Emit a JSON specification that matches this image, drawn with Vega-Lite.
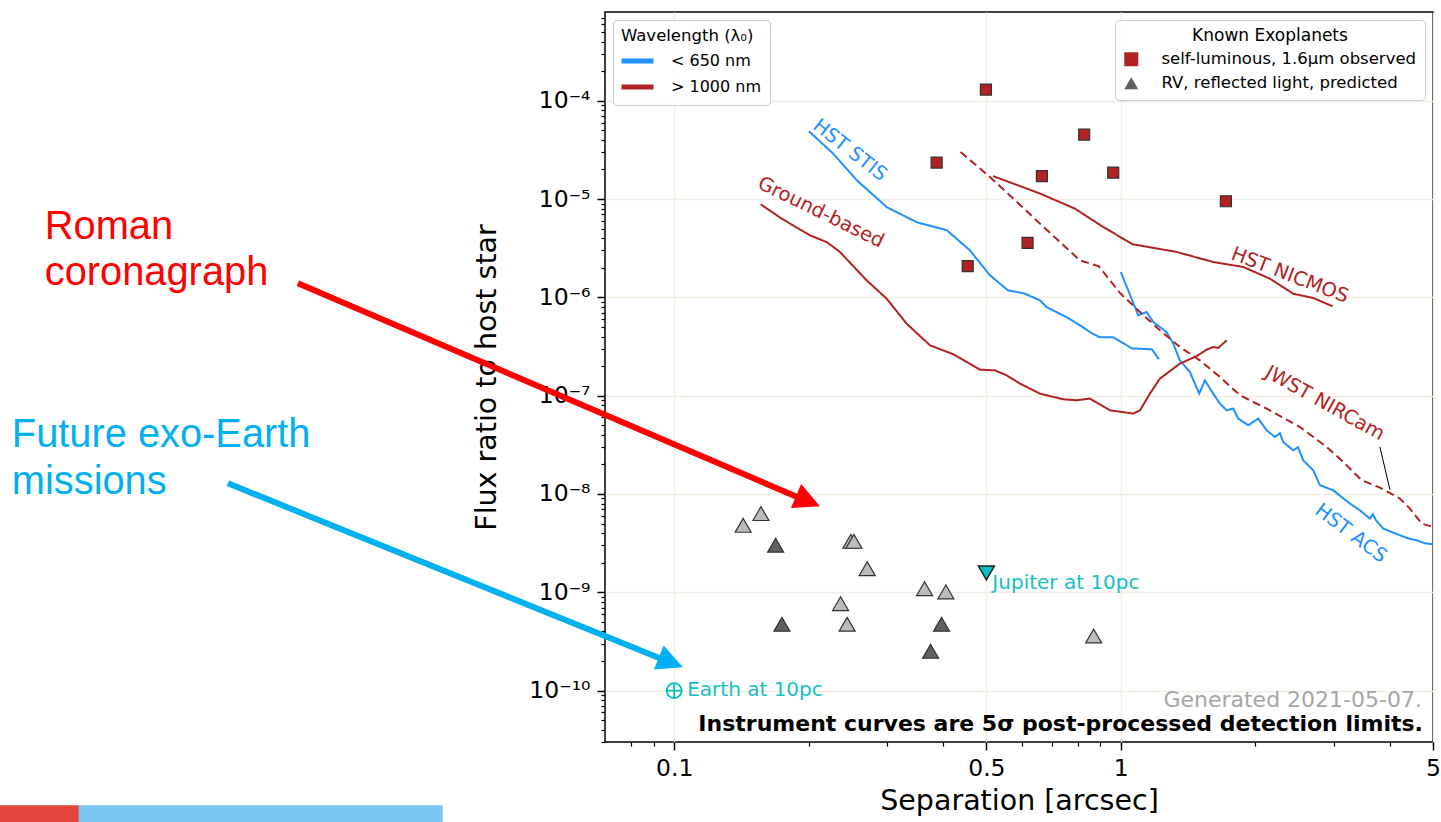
{
  "$schema": "https://vega.github.io/schema/vega-lite/v6.json",
  "width": 828,
  "height": 730,
  "autosize": "none",
  "padding": {"left": 605, "top": 12, "right": 8, "bottom": 80},
  "background": "#ffffff",
  "config": {
    "font": "DejaVu Sans",
    "view": {"stroke": "#000000", "strokeWidth": 1.5},
    "axis": {"labelColor": "#000000", "titleColor": "#000000", "tickColor": "#000000", "domain": false, "labelFont": "DejaVu Sans", "titleFont": "DejaVu Sans", "titleFontWeight": "normal"},
    "legend": {"labelFont": "DejaVu Sans", "titleFont": "DejaVu Sans", "labelColor": "#000000", "titleColor": "#000000", "titleFontWeight": "normal"}
  },
  "datasets": {
    "curves": [
      {"curve": "HST STIS", "band": "< 650 nm", "i": 0, "x": 0.2003, "y": 4.89e-5},
      {"curve": "HST STIS", "band": "< 650 nm", "i": 1, "x": 0.2266, "y": 2.92e-5},
      {"curve": "HST STIS", "band": "< 650 nm", "i": 2, "x": 0.2565, "y": 1.55e-5},
      {"curve": "HST STIS", "band": "< 650 nm", "i": 3, "x": 0.2995, "y": 8.25e-6},
      {"curve": "HST STIS", "band": "< 650 nm", "i": 4, "x": 0.3494, "y": 5.81e-6},
      {"curve": "HST STIS", "band": "< 650 nm", "i": 5, "x": 0.4079, "y": 4.82e-6},
      {"curve": "HST STIS", "band": "< 650 nm", "i": 6, "x": 0.4593, "y": 3.01e-6},
      {"curve": "HST STIS", "band": "< 650 nm", "i": 7, "x": 0.5092, "y": 1.68e-6},
      {"curve": "HST STIS", "band": "< 650 nm", "i": 8, "x": 0.5587, "y": 1.18e-6},
      {"curve": "HST STIS", "band": "< 650 nm", "i": 9, "x": 0.6067, "y": 1.10e-6},
      {"curve": "HST STIS", "band": "< 650 nm", "i": 10, "x": 0.659, "y": 9.34e-7},
      {"curve": "HST STIS", "band": "< 650 nm", "i": 11, "x": 0.6831, "y": 7.93e-7},
      {"curve": "HST STIS", "band": "< 650 nm", "i": 12, "x": 0.7574, "y": 6.27e-7},
      {"curve": "HST STIS", "band": "< 650 nm", "i": 13, "x": 0.8098, "y": 5.20e-7},
      {"curve": "HST STIS", "band": "< 650 nm", "i": 14, "x": 0.8615, "y": 4.31e-7},
      {"curve": "HST STIS", "band": "< 650 nm", "i": 15, "x": 0.8979, "y": 3.93e-7},
      {"curve": "HST STIS", "band": "< 650 nm", "i": 16, "x": 0.9601, "y": 3.93e-7},
      {"curve": "HST STIS", "band": "< 650 nm", "i": 17, "x": 1.059, "y": 3.03e-7},
      {"curve": "HST STIS", "band": "< 650 nm", "i": 18, "x": 1.174, "y": 2.96e-7},
      {"curve": "HST STIS", "band": "< 650 nm", "i": 19, "x": 1.217, "y": 2.35e-7},
      {"curve": "HST ACS", "band": "< 650 nm", "i": 20, "x": 1.0, "y": 1.81e-6},
      {"curve": "HST ACS", "band": "< 650 nm", "i": 21, "x": 1.094, "y": 6.58e-7},
      {"curve": "HST ACS", "band": "< 650 nm", "i": 22, "x": 1.142, "y": 7.10e-7},
      {"curve": "HST ACS", "band": "< 650 nm", "i": 23, "x": 1.182, "y": 5.62e-7},
      {"curve": "HST ACS", "band": "< 650 nm", "i": 24, "x": 1.223, "y": 5.00e-7},
      {"curve": "HST ACS", "band": "< 650 nm", "i": 25, "x": 1.266, "y": 4.45e-7},
      {"curve": "HST ACS", "band": "< 650 nm", "i": 26, "x": 1.31, "y": 3.39e-7},
      {"curve": "HST ACS", "band": "< 650 nm", "i": 27, "x": 1.356, "y": 2.29e-7},
      {"curve": "HST ACS", "band": "< 650 nm", "i": 28, "x": 1.428, "y": 1.74e-7},
      {"curve": "HST ACS", "band": "< 650 nm", "i": 29, "x": 1.498, "y": 1.05e-7},
      {"curve": "HST ACS", "band": "< 650 nm", "i": 30, "x": 1.543, "y": 1.43e-7},
      {"curve": "HST ACS", "band": "< 650 nm", "i": 31, "x": 1.61, "y": 1.05e-7},
      {"curve": "HST ACS", "band": "< 650 nm", "i": 32, "x": 1.667, "y": 8.31e-8},
      {"curve": "HST ACS", "band": "< 650 nm", "i": 33, "x": 1.726, "y": 7.10e-8},
      {"curve": "HST ACS", "band": "< 650 nm", "i": 34, "x": 1.785, "y": 7.39e-8},
      {"curve": "HST ACS", "band": "< 650 nm", "i": 35, "x": 1.832, "y": 5.85e-8},
      {"curve": "HST ACS", "band": "< 650 nm", "i": 36, "x": 1.929, "y": 5.00e-8},
      {"curve": "HST ACS", "band": "< 650 nm", "i": 37, "x": 2.03, "y": 5.85e-8},
      {"curve": "HST ACS", "band": "< 650 nm", "i": 38, "x": 2.121, "y": 4.45e-8},
      {"curve": "HST ACS", "band": "< 650 nm", "i": 39, "x": 2.213, "y": 3.80e-8},
      {"curve": "HST ACS", "band": "< 650 nm", "i": 40, "x": 2.271, "y": 4.15e-8},
      {"curve": "HST ACS", "band": "< 650 nm", "i": 41, "x": 2.31, "y": 3.38e-8},
      {"curve": "HST ACS", "band": "< 650 nm", "i": 42, "x": 2.432, "y": 2.78e-8},
      {"curve": "HST ACS", "band": "< 650 nm", "i": 43, "x": 2.492, "y": 2.99e-8},
      {"curve": "HST ACS", "band": "< 650 nm", "i": 44, "x": 2.561, "y": 2.20e-8},
      {"curve": "HST ACS", "band": "< 650 nm", "i": 45, "x": 2.697, "y": 1.74e-8},
      {"curve": "HST ACS", "band": "< 650 nm", "i": 46, "x": 2.791, "y": 1.23e-8},
      {"curve": "HST ACS", "band": "< 650 nm", "i": 47, "x": 2.989, "y": 1.09e-8},
      {"curve": "HST ACS", "band": "< 650 nm", "i": 48, "x": 3.258, "y": 7.98e-9},
      {"curve": "HST ACS", "band": "< 650 nm", "i": 49, "x": 3.43, "y": 6.83e-9},
      {"curve": "HST ACS", "band": "< 650 nm", "i": 50, "x": 3.612, "y": 5.62e-9},
      {"curve": "HST ACS", "band": "< 650 nm", "i": 51, "x": 3.668, "y": 6.22e-9},
      {"curve": "HST ACS", "band": "< 650 nm", "i": 52, "x": 3.726, "y": 5.40e-9},
      {"curve": "HST ACS", "band": "< 650 nm", "i": 53, "x": 3.868, "y": 4.45e-9},
      {"curve": "HST ACS", "band": "< 650 nm", "i": 54, "x": 4.004, "y": 4.17e-9},
      {"curve": "HST ACS", "band": "< 650 nm", "i": 55, "x": 4.216, "y": 3.80e-9},
      {"curve": "HST ACS", "band": "< 650 nm", "i": 56, "x": 4.393, "y": 3.54e-9},
      {"curve": "HST ACS", "band": "< 650 nm", "i": 57, "x": 4.596, "y": 3.38e-9},
      {"curve": "HST ACS", "band": "< 650 nm", "i": 58, "x": 4.797, "y": 3.15e-9},
      {"curve": "HST ACS", "band": "< 650 nm", "i": 59, "x": 5.0, "y": 3.08e-9},
      {"curve": "Ground-based", "band": "> 1000 nm", "i": 60, "x": 0.1562, "y": 8.85e-6},
      {"curve": "Ground-based", "band": "> 1000 nm", "i": 61, "x": 0.174, "y": 6.33e-6},
      {"curve": "Ground-based", "band": "> 1000 nm", "i": 62, "x": 0.2013, "y": 4.28e-6},
      {"curve": "Ground-based", "band": "> 1000 nm", "i": 63, "x": 0.2194, "y": 3.66e-6},
      {"curve": "Ground-based", "band": "> 1000 nm", "i": 64, "x": 0.235, "y": 2.90e-6},
      {"curve": "Ground-based", "band": "> 1000 nm", "i": 65, "x": 0.2697, "y": 1.49e-6},
      {"curve": "Ground-based", "band": "> 1000 nm", "i": 66, "x": 0.2989, "y": 9.72e-7},
      {"curve": "Ground-based", "band": "> 1000 nm", "i": 67, "x": 0.3314, "y": 5.41e-7},
      {"curve": "Ground-based", "band": "> 1000 nm", "i": 68, "x": 0.3737, "y": 3.26e-7},
      {"curve": "Ground-based", "band": "> 1000 nm", "i": 69, "x": 0.4215, "y": 2.64e-7},
      {"curve": "Ground-based", "band": "> 1000 nm", "i": 70, "x": 0.4836, "y": 1.84e-7},
      {"curve": "Ground-based", "band": "> 1000 nm", "i": 71, "x": 0.5226, "y": 1.81e-7},
      {"curve": "Ground-based", "band": "> 1000 nm", "i": 72, "x": 0.555, "y": 1.61e-7},
      {"curve": "Ground-based", "band": "> 1000 nm", "i": 73, "x": 0.5943, "y": 1.33e-7},
      {"curve": "Ground-based", "band": "> 1000 nm", "i": 74, "x": 0.659, "y": 1.05e-7},
      {"curve": "Ground-based", "band": "> 1000 nm", "i": 75, "x": 0.743, "y": 9.19e-8},
      {"curve": "Ground-based", "band": "> 1000 nm", "i": 76, "x": 0.7962, "y": 8.98e-8},
      {"curve": "Ground-based", "band": "> 1000 nm", "i": 77, "x": 0.8527, "y": 9.34e-8},
      {"curve": "Ground-based", "band": "> 1000 nm", "i": 78, "x": 0.9454, "y": 7.10e-8},
      {"curve": "Ground-based", "band": "> 1000 nm", "i": 79, "x": 1.066, "y": 6.58e-8},
      {"curve": "Ground-based", "band": "> 1000 nm", "i": 80, "x": 1.104, "y": 7.10e-8},
      {"curve": "Ground-based", "band": "> 1000 nm", "i": 81, "x": 1.162, "y": 1.05e-7},
      {"curve": "Ground-based", "band": "> 1000 nm", "i": 82, "x": 1.223, "y": 1.49e-7},
      {"curve": "Ground-based", "band": "> 1000 nm", "i": 83, "x": 1.356, "y": 2.12e-7},
      {"curve": "Ground-based", "band": "> 1000 nm", "i": 84, "x": 1.478, "y": 2.52e-7},
      {"curve": "Ground-based", "band": "> 1000 nm", "i": 85, "x": 1.556, "y": 2.94e-7},
      {"curve": "Ground-based", "band": "> 1000 nm", "i": 86, "x": 1.61, "y": 3.13e-7},
      {"curve": "Ground-based", "band": "> 1000 nm", "i": 87, "x": 1.652, "y": 3.06e-7},
      {"curve": "Ground-based", "band": "> 1000 nm", "i": 88, "x": 1.726, "y": 3.66e-7},
      {"curve": "HST NICMOS", "band": "> 1000 nm", "i": 89, "x": 0.518, "y": 1.71e-5},
      {"curve": "HST NICMOS", "band": "> 1000 nm", "i": 90, "x": 0.659, "y": 1.14e-5},
      {"curve": "HST NICMOS", "band": "> 1000 nm", "i": 91, "x": 0.7891, "y": 8.00e-6},
      {"curve": "HST NICMOS", "band": "> 1000 nm", "i": 92, "x": 0.9133, "y": 5.20e-6},
      {"curve": "HST NICMOS", "band": "> 1000 nm", "i": 93, "x": 1.063, "y": 3.47e-6},
      {"curve": "HST NICMOS", "band": "> 1000 nm", "i": 94, "x": 1.333, "y": 2.90e-6},
      {"curve": "HST NICMOS", "band": "> 1000 nm", "i": 95, "x": 1.61, "y": 2.29e-6},
      {"curve": "HST NICMOS", "band": "> 1000 nm", "i": 96, "x": 1.879, "y": 2.04e-6},
      {"curve": "HST NICMOS", "band": "> 1000 nm", "i": 97, "x": 2.157, "y": 1.55e-6},
      {"curve": "HST NICMOS", "band": "> 1000 nm", "i": 98, "x": 2.432, "y": 1.09e-6},
      {"curve": "HST NICMOS", "band": "> 1000 nm", "i": 99, "x": 2.697, "y": 9.86e-7},
      {"curve": "HST NICMOS", "band": "> 1000 nm", "i": 100, "x": 2.98, "y": 8.12e-7},
      {"curve": "JWST NIRCam", "band": "> 1000 nm", "i": 101, "x": 0.4378, "y": 3.01e-5},
      {"curve": "JWST NIRCam", "band": "> 1000 nm", "i": 102, "x": 0.5092, "y": 1.68e-5},
      {"curve": "JWST NIRCam", "band": "> 1000 nm", "i": 103, "x": 0.5645, "y": 1.09e-5},
      {"curve": "JWST NIRCam", "band": "> 1000 nm", "i": 104, "x": 0.659, "y": 5.63e-6},
      {"curve": "JWST NIRCam", "band": "> 1000 nm", "i": 105, "x": 0.7305, "y": 3.66e-6},
      {"curve": "JWST NIRCam", "band": "> 1000 nm", "i": 106, "x": 0.8098, "y": 2.38e-6},
      {"curve": "JWST NIRCam", "band": "> 1000 nm", "i": 107, "x": 0.8932, "y": 2.07e-6},
      {"curve": "JWST NIRCam", "band": "> 1000 nm", "i": 108, "x": 0.9954, "y": 1.11e-6},
      {"curve": "JWST NIRCam", "band": "> 1000 nm", "i": 109, "x": 1.104, "y": 7.10e-7},
      {"curve": "JWST NIRCam", "band": "> 1000 nm", "i": 110, "x": 1.223, "y": 4.63e-7},
      {"curve": "JWST NIRCam", "band": "> 1000 nm", "i": 111, "x": 1.356, "y": 3.13e-7},
      {"curve": "JWST NIRCam", "band": "> 1000 nm", "i": 112, "x": 1.503, "y": 2.29e-7},
      {"curve": "JWST NIRCam", "band": "> 1000 nm", "i": 113, "x": 1.667, "y": 1.55e-7},
      {"curve": "JWST NIRCam", "band": "> 1000 nm", "i": 114, "x": 1.848, "y": 1.01e-7},
      {"curve": "JWST NIRCam", "band": "> 1000 nm", "i": 115, "x": 2.121, "y": 7.39e-8},
      {"curve": "JWST NIRCam", "band": "> 1000 nm", "i": 116, "x": 2.518, "y": 4.80e-8},
      {"curve": "JWST NIRCam", "band": "> 1000 nm", "i": 117, "x": 2.889, "y": 3.01e-8},
      {"curve": "JWST NIRCam", "band": "> 1000 nm", "i": 118, "x": 3.148, "y": 2.12e-8},
      {"curve": "JWST NIRCam", "band": "> 1000 nm", "i": 119, "x": 3.461, "y": 1.38e-8},
      {"curve": "JWST NIRCam", "band": "> 1000 nm", "i": 120, "x": 3.803, "y": 1.16e-8},
      {"curve": "JWST NIRCam", "band": "> 1000 nm", "i": 121, "x": 4.216, "y": 8.98e-9},
      {"curve": "JWST NIRCam", "band": "> 1000 nm", "i": 122, "x": 4.439, "y": 7.10e-9},
      {"curve": "JWST NIRCam", "band": "> 1000 nm", "i": 123, "x": 4.716, "y": 5.00e-9},
      {"curve": "JWST NIRCam", "band": "> 1000 nm", "i": 124, "x": 4.996, "y": 4.62e-9}
    ],
    "planets": [
      {"kind": "self-luminous, 1.6μm observed", "shade": "sq", "x": 0.4988, "y": 1.30e-4},
      {"kind": "self-luminous, 1.6μm observed", "shade": "sq", "x": 0.3869, "y": 2.35e-5},
      {"kind": "self-luminous, 1.6μm observed", "shade": "sq", "x": 0.6658, "y": 1.71e-5},
      {"kind": "self-luminous, 1.6μm observed", "shade": "sq", "x": 0.8279, "y": 4.53e-5},
      {"kind": "self-luminous, 1.6μm observed", "shade": "sq", "x": 0.9616, "y": 1.86e-5},
      {"kind": "self-luminous, 1.6μm observed", "shade": "sq", "x": 1.719, "y": 9.50e-6},
      {"kind": "self-luminous, 1.6μm observed", "shade": "sq", "x": 0.6183, "y": 3.58e-6},
      {"kind": "self-luminous, 1.6μm observed", "shade": "sq", "x": 0.4541, "y": 2.08e-6},
      {"kind": "RV, reflected light, predicted", "shade": "light", "x": 0.1427, "y": 4.80e-9},
      {"kind": "RV, reflected light, predicted", "shade": "light", "x": 0.1564, "y": 6.32e-9},
      {"kind": "RV, reflected light, predicted", "shade": "light", "x": 0.2487, "y": 3.30e-9},
      {"kind": "RV, reflected light, predicted", "shade": "light", "x": 0.2526, "y": 3.30e-9},
      {"kind": "RV, reflected light, predicted", "shade": "light", "x": 0.2705, "y": 1.74e-9},
      {"kind": "RV, reflected light, predicted", "shade": "light", "x": 0.2358, "y": 7.67e-10},
      {"kind": "RV, reflected light, predicted", "shade": "light", "x": 0.2439, "y": 4.73e-10},
      {"kind": "RV, reflected light, predicted", "shade": "light", "x": 0.3636, "y": 1.09e-9},
      {"kind": "RV, reflected light, predicted", "shade": "light", "x": 0.4058, "y": 1.01e-9},
      {"kind": "RV, reflected light, predicted", "shade": "light", "x": 0.8694, "y": 3.59e-10},
      {"kind": "RV, reflected light, predicted", "shade": "dark", "x": 0.1687, "y": 3.01e-9},
      {"kind": "RV, reflected light, predicted", "shade": "dark", "x": 0.1743, "y": 4.73e-10},
      {"kind": "RV, reflected light, predicted", "shade": "dark", "x": 0.3969, "y": 4.73e-10},
      {"kind": "RV, reflected light, predicted", "shade": "dark", "x": 0.3751, "y": 2.51e-10}
    ],
    "curvelabels": [
      {"curve": "HST STIS", "x": 0.2474, "y": 3.14e-5},
      {"curve": "Ground-based", "x": 0.2131, "y": 7.34e-6},
      {"curve": "HST NICMOS", "x": 2.391, "y": 1.68e-6},
      {"curve": "JWST NIRCam", "x": 2.864, "y": 8.37e-8},
      {"curve": "HST ACS", "x": 3.275, "y": 3.98e-9}
    ]
  },
  "layer": [
    {
      "data": {"values": [{"x": 0.0029, "x2": 0.004646, "y": 6.81e-12, "y2": 3.5e-12}]},
      "mark": {"type": "rect", "color": "#e2463b"},
      "encoding": {
        "x": {"field": "x", "type": "quantitative", "scale": {"type": "log", "domain": [0.07, 5], "nice": false}, "axis": null},
        "x2": {"field": "x2"},
        "y": {"field": "y", "type": "quantitative", "scale": {"type": "log", "domain": [3e-11, 8e-4], "nice": false}, "axis": null},
        "y2": {"field": "y2"}
      }
    },
    {
      "data": {"values": [{"x": 0.004646, "x2": 0.03034, "y": 6.81e-12, "y2": 3.5e-12}]},
      "mark": {"type": "rect", "color": "#7cc7ef"},
      "encoding": {
        "x": {"field": "x", "type": "quantitative", "scale": {"type": "log", "domain": [0.07, 5], "nice": false}, "axis": null},
        "x2": {"field": "x2"},
        "y": {"field": "y", "type": "quantitative", "scale": {"type": "log", "domain": [3e-11, 8e-4], "nice": false}, "axis": null},
        "y2": {"field": "y2"}
      }
    },
    {
      "data": {"name": "curves"},
      "mark": {"type": "line", "strokeWidth": 2, "clip": true},
      "encoding": {
        "x": {"field": "x", "type": "quantitative", "scale": {"type": "log", "domain": [0.07, 5], "nice": false},
          "axis": {"orient": "bottom", "values": [0.1, 0.5, 1, 5], "labelExpr": "format(datum.value, '~g')", "labelFontSize": 23.5, "labelPadding": 6, "labelFlush": false, "labelOverlap": false, "tickSize": 8, "tickWidth": 1.5, "grid": true, "gridColor": "#f3eee4", "gridWidth": 1.5, "title": "Separation [arcsec]", "titleFontSize": 28.5, "titlePadding": 7}},
        "y": {"field": "y", "type": "quantitative", "scale": {"type": "log", "domain": [3e-11, 8e-4], "nice": false},
          "axis": {"orient": "left", "values": [1e-10, 1e-9, 1e-8, 1e-7, 1e-6, 1e-5, 1e-4], "labelExpr": "'10' + ['⁰','⁻¹','⁻²','⁻³','⁻⁴','⁻⁵','⁻⁶','⁻⁷','⁻⁸','⁻⁹','⁻¹⁰'][round(-log(datum.value)/LN10)]", "labelFontSize": 23.5, "labelPadding": 7, "labelFlush": false, "labelOverlap": false, "tickSize": 8, "tickWidth": 1.5, "grid": true, "gridColor": "#f3eee4", "gridWidth": 1.5, "title": "Flux ratio to host star", "titleFontSize": 28.5, "titlePadding": 27}},
        "color": {"field": "band", "type": "nominal", "scale": {"domain": ["< 650 nm", "> 1000 nm"], "range": ["#1e90ff", "#b22222"]},
          "legend": {"title": "Wavelength (λ₀)", "orient": "top-left", "offset": 8, "symbolType": "M -1.2 0 L 2 0", "symbolSize": 400, "symbolStrokeWidth": 5, "labelFontSize": 16, "titleFontSize": 16.5, "labelOffset": 25, "padding": 8, "rowPadding": 3, "titlePadding": 4, "fillColor": "rgba(255,255,255,0.85)", "strokeColor": "#cccccc", "cornerRadius": 4}},
        "detail": {"field": "curve"},
        "strokeDash": {"field": "curve", "type": "nominal", "scale": {"domain": ["HST STIS", "HST ACS", "Ground-based", "HST NICMOS", "JWST NIRCam"], "range": [[1, 0], [1, 0], [1, 0], [1, 0], [8, 4.5]]}, "legend": null},
        "order": {"field": "i", "type": "quantitative"}
      }
    },
    {
      "data": {"values": [{"x": 3.803, "y": 3.01e-8, "x2": 4.004, "y2": 1.108e-8}]},
      "mark": {"type": "rule", "color": "#000000", "strokeWidth": 1},
      "encoding": {
        "x": {"field": "x", "type": "quantitative", "scale": {"type": "log", "domain": [0.07, 5], "nice": false}, "axis": null},
        "x2": {"field": "x2"},
        "y": {"field": "y", "type": "quantitative", "scale": {"type": "log", "domain": [3e-11, 8e-4], "nice": false}, "axis": null},
        "y2": {"field": "y2"}
      }
    },
    {
      "data": {"name": "planets"},
      "transform": [{"filter": "datum.shade !== 'light'"}],
      "mark": {"type": "point", "filled": true, "opacity": 1, "stroke": "#333333", "strokeWidth": 1.2},
      "encoding": {
        "x": {"field": "x", "type": "quantitative", "scale": {"type": "log", "domain": [0.07, 5], "nice": false},
          "axis": {"orient": "bottom", "values": [0.08, 0.09, 0.2, 0.3, 0.4, 0.6, 0.7, 0.8, 0.9, 2, 3, 4], "labels": false, "tickSize": 4, "tickWidth": 1.2, "grid": false, "title": null}},
        "y": {"field": "y", "type": "quantitative", "scale": {"type": "log", "domain": [3e-11, 8e-4], "nice": false},
          "axis": {"orient": "left", "values": [3e-11, 4e-11, 5e-11, 6e-11, 7e-11, 8e-11, 9e-11, 2e-10, 3e-10, 4e-10, 5e-10, 6e-10, 7e-10, 8e-10, 9e-10, 2e-9, 3e-9, 4e-9, 5e-9, 6e-9, 7e-9, 8e-9, 9e-9, 2e-8, 3e-8, 4e-8, 5e-8, 6e-8, 7e-8, 8e-8, 9e-8, 2e-7, 3e-7, 4e-7, 5e-7, 6e-7, 7e-7, 8e-7, 9e-7, 2e-6, 3e-6, 4e-6, 5e-6, 6e-6, 7e-6, 8e-6, 9e-6, 2e-5, 3e-5, 4e-5, 5e-5, 6e-5, 7e-5, 8e-5, 9e-5, 2e-4, 3e-4, 4e-4, 5e-4, 6e-4, 7e-4], "labels": false, "tickSize": 4, "tickWidth": 1.2, "grid": false, "title": null}},
        "shape": {"field": "kind", "type": "nominal", "scale": {"domain": ["self-luminous, 1.6μm observed", "RV, reflected light, predicted"], "range": ["square", "triangle-up"]},
          "legend": {"title": "Known Exoplanets", "orient": "top-right", "offset": 8, "symbolSize": 196, "symbolStrokeColor": "#222222", "symbolStrokeWidth": 1, "labelFontSize": 16.5, "labelLimit": 400, "titleFontSize": 17, "titleAnchor": "middle", "labelOffset": 22, "padding": 8, "rowPadding": 6, "titlePadding": 6, "fillColor": "rgba(255,255,255,0.85)", "strokeColor": "#cccccc", "cornerRadius": 4}},
        "fill": {"field": "kind", "type": "nominal", "scale": {"domain": ["self-luminous, 1.6μm observed", "RV, reflected light, predicted"], "range": ["#b22222", "#606060"]},
          "legend": {"title": "Known Exoplanets", "orient": "top-right", "offset": 8, "symbolSize": 196, "symbolStrokeColor": "#222222", "symbolStrokeWidth": 1, "labelFontSize": 16.5, "labelLimit": 400, "titleFontSize": 17, "titleAnchor": "middle", "labelOffset": 22, "padding": 8, "rowPadding": 6, "titlePadding": 6, "fillColor": "rgba(255,255,255,0.85)", "strokeColor": "#cccccc", "cornerRadius": 4}},
        "size": {"condition": {"test": "datum.kind === 'RV, reflected light, predicted'", "value": 256}, "value": 121}
      }
    },
    {
      "data": {"name": "planets"},
      "transform": [{"filter": "datum.shade === 'light'"}],
      "mark": {"type": "point", "shape": "triangle-up", "filled": true, "opacity": 1, "color": "#bbbbbb", "stroke": "#333333", "strokeWidth": 1.2, "size": 256},
      "encoding": {
        "x": {"field": "x", "type": "quantitative", "scale": {"type": "log", "domain": [0.07, 5], "nice": false}, "axis": null},
        "y": {"field": "y", "type": "quantitative", "scale": {"type": "log", "domain": [3e-11, 8e-4], "nice": false}, "axis": null}
      }
    },
    {
      "data": {"values": [{"x": 0.5, "y": 1.57e-9}]},
      "mark": {"type": "point", "shape": "triangle-down", "filled": true, "opacity": 1, "color": "#00bfbf", "stroke": "#222222", "strokeWidth": 1.5, "size": 256},
      "encoding": {
        "x": {"field": "x", "type": "quantitative", "scale": {"type": "log", "domain": [0.07, 5], "nice": false}, "axis": null},
        "y": {"field": "y", "type": "quantitative", "scale": {"type": "log", "domain": [3e-11, 8e-4], "nice": false}, "axis": null}
      }
    },
    {
      "data": {"values": [{"x": 0.1, "y": 1e-10}]},
      "mark": {"type": "point", "shape": "M -1 0 A 1 1 0 1 1 1 0 A 1 1 0 1 1 -1 0 Z M -1 0 L 1 0 M 0 -1 L 0 1", "filled": false, "opacity": 1, "color": "#00bfbf", "strokeWidth": 1.8, "size": 225},
      "encoding": {
        "x": {"field": "x", "type": "quantitative", "scale": {"type": "log", "domain": [0.07, 5], "nice": false}, "axis": null},
        "y": {"field": "y", "type": "quantitative", "scale": {"type": "log", "domain": [3e-11, 8e-4], "nice": false}, "axis": null}
      }
    },
    {
      "data": {"values": [{"x": 0.1, "y": 1e-10, "t": "Earth at 10pc"}]},
      "mark": {"type": "text", "align": "left", "baseline": "alphabetic", "dx": 13, "dy": 5, "fontSize": 20, "color": "#17c0c0"},
      "encoding": {
        "x": {"field": "x", "type": "quantitative", "scale": {"type": "log", "domain": [0.07, 5], "nice": false}, "axis": null},
        "y": {"field": "y", "type": "quantitative", "scale": {"type": "log", "domain": [3e-11, 8e-4], "nice": false}, "axis": null},
        "text": {"field": "t"}
      }
    },
    {
      "data": {"values": [{"x": 0.5, "y": 1.57e-9, "t": "Jupiter at 10pc"}]},
      "mark": {"type": "text", "align": "left", "baseline": "alphabetic", "dx": 6, "dy": 16, "fontSize": 20, "color": "#17c0c0"},
      "encoding": {
        "x": {"field": "x", "type": "quantitative", "scale": {"type": "log", "domain": [0.07, 5], "nice": false}, "axis": null},
        "y": {"field": "y", "type": "quantitative", "scale": {"type": "log", "domain": [3e-11, 8e-4], "nice": false}, "axis": null},
        "text": {"field": "t"}
      }
    },
    {
      "data": {"name": "curvelabels"},
      "transform": [{"filter": "datum.curve === 'HST STIS'"}],
      "mark": {"type": "text", "align": "center", "baseline": "middle", "angle": 38, "fontSize": 19.5, "color": "#1e90ff"},
      "encoding": {
        "x": {"field": "x", "type": "quantitative", "scale": {"type": "log", "domain": [0.07, 5], "nice": false}, "axis": null},
        "y": {"field": "y", "type": "quantitative", "scale": {"type": "log", "domain": [3e-11, 8e-4], "nice": false}, "axis": null},
        "text": {"field": "curve"}
      }
    },
    {
      "data": {"name": "curvelabels"},
      "transform": [{"filter": "datum.curve === 'Ground-based'"}],
      "mark": {"type": "text", "align": "center", "baseline": "middle", "angle": 26, "fontSize": 19.5, "color": "#b22222"},
      "encoding": {
        "x": {"field": "x", "type": "quantitative", "scale": {"type": "log", "domain": [0.07, 5], "nice": false}, "axis": null},
        "y": {"field": "y", "type": "quantitative", "scale": {"type": "log", "domain": [3e-11, 8e-4], "nice": false}, "axis": null},
        "text": {"field": "curve"}
      }
    },
    {
      "data": {"name": "curvelabels"},
      "transform": [{"filter": "datum.curve === 'HST NICMOS'"}],
      "mark": {"type": "text", "align": "center", "baseline": "middle", "angle": 21, "fontSize": 19.5, "color": "#b22222"},
      "encoding": {
        "x": {"field": "x", "type": "quantitative", "scale": {"type": "log", "domain": [0.07, 5], "nice": false}, "axis": null},
        "y": {"field": "y", "type": "quantitative", "scale": {"type": "log", "domain": [3e-11, 8e-4], "nice": false}, "axis": null},
        "text": {"field": "curve"}
      }
    },
    {
      "data": {"name": "curvelabels"},
      "transform": [{"filter": "datum.curve === 'JWST NIRCam'"}],
      "mark": {"type": "text", "align": "center", "baseline": "middle", "angle": 29, "fontSize": 19.5, "color": "#b22222"},
      "encoding": {
        "x": {"field": "x", "type": "quantitative", "scale": {"type": "log", "domain": [0.07, 5], "nice": false}, "axis": null},
        "y": {"field": "y", "type": "quantitative", "scale": {"type": "log", "domain": [3e-11, 8e-4], "nice": false}, "axis": null},
        "text": {"field": "curve"}
      }
    },
    {
      "data": {"name": "curvelabels"},
      "transform": [{"filter": "datum.curve === 'HST ACS'"}],
      "mark": {"type": "text", "align": "center", "baseline": "middle", "angle": 37, "fontSize": 19.5, "color": "#1e90ff"},
      "encoding": {
        "x": {"field": "x", "type": "quantitative", "scale": {"type": "log", "domain": [0.07, 5], "nice": false}, "axis": null},
        "y": {"field": "y", "type": "quantitative", "scale": {"type": "log", "domain": [3e-11, 8e-4], "nice": false}, "axis": null},
        "text": {"field": "curve"}
      }
    },
    {
      "data": {"values": [{"x": 4.723, "y": 6.76e-11, "t": "Generated 2021-05-07."}]},
      "mark": {"type": "text", "align": "right", "baseline": "alphabetic", "fontSize": 22, "color": "#a6a6a6"},
      "encoding": {
        "x": {"field": "x", "type": "quantitative", "scale": {"type": "log", "domain": [0.07, 5], "nice": false}, "axis": null},
        "y": {"field": "y", "type": "quantitative", "scale": {"type": "log", "domain": [3e-11, 8e-4], "nice": false}, "axis": null},
        "text": {"field": "t"}
      }
    },
    {
      "data": {"values": [{"x": 4.747, "y": 3.853e-11, "t": "Instrument curves are 5σ post-processed detection limits."}]},
      "mark": {"type": "text", "align": "right", "baseline": "alphabetic", "fontSize": 22, "fontWeight": "bold", "color": "#000000"},
      "encoding": {
        "x": {"field": "x", "type": "quantitative", "scale": {"type": "log", "domain": [0.07, 5], "nice": false}, "axis": null},
        "y": {"field": "y", "type": "quantitative", "scale": {"type": "log", "domain": [3e-11, 8e-4], "nice": false}, "axis": null},
        "text": {"field": "t"}
      }
    },
    {
      "data": {"values": [{"x": 0.003898, "y": 3.946e-6, "t": "Roman"}, {"x": 0.003898, "y": 1.328e-6, "t": "coronagraph"}]},
      "mark": {"type": "text", "align": "left", "baseline": "alphabetic", "font": "Liberation Sans", "fontSize": 39.8, "color": "#ff0000"},
      "encoding": {
        "x": {"field": "x", "type": "quantitative", "scale": {"type": "log", "domain": [0.07, 5], "nice": false}, "axis": null},
        "y": {"field": "y", "type": "quantitative", "scale": {"type": "log", "domain": [3e-11, 8e-4], "nice": false}, "axis": null},
        "text": {"field": "t"}
      }
    },
    {
      "data": {"values": [{"x": 0.003289, "y": 3.006e-8, "t": "Future exo-Earth"}, {"x": 0.003289, "y": 1.009e-8, "t": "missions"}]},
      "mark": {"type": "text", "align": "left", "baseline": "alphabetic", "font": "Liberation Sans", "fontSize": 39.8, "color": "#00b0f0"},
      "encoding": {
        "x": {"field": "x", "type": "quantitative", "scale": {"type": "log", "domain": [0.07, 5], "nice": false}, "axis": null},
        "y": {"field": "y", "type": "quantitative", "scale": {"type": "log", "domain": [3e-11, 8e-4], "nice": false}, "axis": null},
        "text": {"field": "t"}
      }
    },
    {
      "data": {"values": [{"x": 0.01437, "y": 1.391e-6, "x2": 0.1892, "y2": 9.26e-9}]},
      "mark": {"type": "rule", "color": "#ff0000", "strokeWidth": 6, "strokeCap": "butt"},
      "encoding": {
        "x": {"field": "x", "type": "quantitative", "scale": {"type": "log", "domain": [0.07, 5], "nice": false}, "axis": null},
        "x2": {"field": "x2"},
        "y": {"field": "y", "type": "quantitative", "scale": {"type": "log", "domain": [3e-11, 8e-4], "nice": false}, "axis": null},
        "y2": {"field": "y2"}
      }
    },
    {
      "data": {"values": [{"x": 0.212, "y": 7.5e-9}]},
      "mark": {"type": "point", "shape": "M 0 0 L -2 -1 L -2 1 Z", "size": 676, "angle": 23.1, "filled": true, "opacity": 1, "color": "#ff0000", "strokeWidth": 0},
      "encoding": {
        "x": {"field": "x", "type": "quantitative", "scale": {"type": "log", "domain": [0.07, 5], "nice": false}, "axis": null},
        "y": {"field": "y", "type": "quantitative", "scale": {"type": "log", "domain": [3e-11, 8e-4], "nice": false}, "axis": null}
      }
    },
    {
      "data": {"values": [{"x": 0.01002, "y": 1.285e-8, "x2": 0.0929, "y2": 2.13e-10}]},
      "mark": {"type": "rule", "color": "#00b0f0", "strokeWidth": 6, "strokeCap": "butt"},
      "encoding": {
        "x": {"field": "x", "type": "quantitative", "scale": {"type": "log", "domain": [0.07, 5], "nice": false}, "axis": null},
        "x2": {"field": "x2"},
        "y": {"field": "y", "type": "quantitative", "scale": {"type": "log", "domain": [3e-11, 8e-4], "nice": false}, "axis": null},
        "y2": {"field": "y2"}
      }
    },
    {
      "data": {"values": [{"x": 0.1046, "y": 1.73e-10}]},
      "mark": {"type": "point", "shape": "M 0 0 L -2 -1 L -2 1 Z", "size": 676, "angle": 22.0, "filled": true, "opacity": 1, "color": "#00b0f0", "strokeWidth": 0},
      "encoding": {
        "x": {"field": "x", "type": "quantitative", "scale": {"type": "log", "domain": [0.07, 5], "nice": false}, "axis": null},
        "y": {"field": "y", "type": "quantitative", "scale": {"type": "log", "domain": [3e-11, 8e-4], "nice": false}, "axis": null}
      }
    }
  ],
  "resolve": {"axis": {"x": "independent", "y": "independent"}}
}
